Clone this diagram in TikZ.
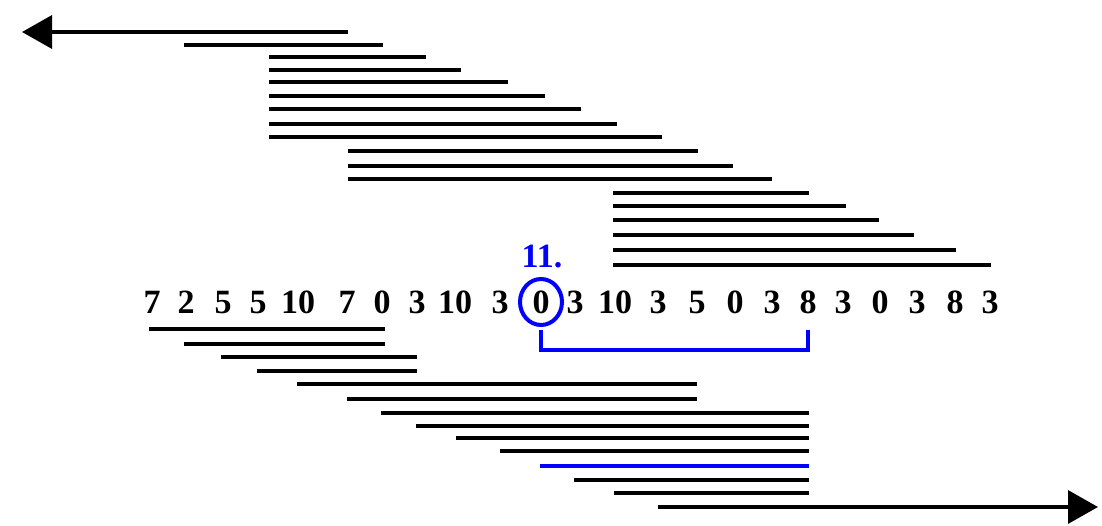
\documentclass[tikz,border=0pt]{standalone}
\usepackage{fontspec}
\setmainfont{Liberation Serif}
\usetikzlibrary{arrows.meta}
\definecolor{pureblue}{RGB}{0,0,255}
\begin{document}
\begin{tikzpicture}[x=1pt,y=-1pt,
  seg/.style={line width=3.5pt,black},
  bseg/.style={line width=3.5pt,pureblue},
  big/.style={-{Triangle[length=30pt,width=33pt]}},
  num/.style={anchor=base,inner sep=0pt,font=\fontsize{34}{34}\selectfont\bfseries}]
\useasboundingbox (0,0) rectangle (1102,525);
% top lines
\draw[seg,big] (348,32) -- (22,32);
\foreach \y/\a/\b in {45/184/383,57/269/426,70/269/461,82/269/508,96/269/545,
  109/269/581,124/269/617,137/269/662,151/348/698,166/348/733,179/348/772,
  193/613/809,206/613/846,220/613/879,235/613/914,250/613/956,265/613/991}
  \draw[seg] (\a,\y) -- (\b,\y);
% numbers
\foreach \t/\x [count=\i] in {7/152,2/186,5/223,5/258,10/298,7/347,0/382,3/417,10/455,3/500,
  0/541,3/575,10/615,3/658,5/697,0/735,3/772,8/808,3/843,0/880,3/917,8/955,3/990}
  \node[num] (n\i) at (\x,313) {\t};
\node[num,text=pureblue] (lab) at (542,267) {11.};
\draw[pureblue,line width=4pt] (541,302) ellipse [x radius=21pt, y radius=23pt];
\draw[bseg] (n11.base |- 0,330) -- (n11.base |- 0,350) -- (n18.base |- 0,350) -- (n18.base |- 0,330);
% bottom lines
\foreach \y/\a/\b in {329/149/385,344/184/385,357/221/417,371/257/417,384/297/697,
  399/347/697,413/381/809,426/416/809,438/456/809,451/500/809,480/574/809,493/614/809}
  \draw[seg] (\a,\y) -- (\b,\y);
\draw[bseg] (540,466) -- (809,466);
\draw[seg,big] (658,507) -- (1098,507);
\end{tikzpicture}
\end{document}
